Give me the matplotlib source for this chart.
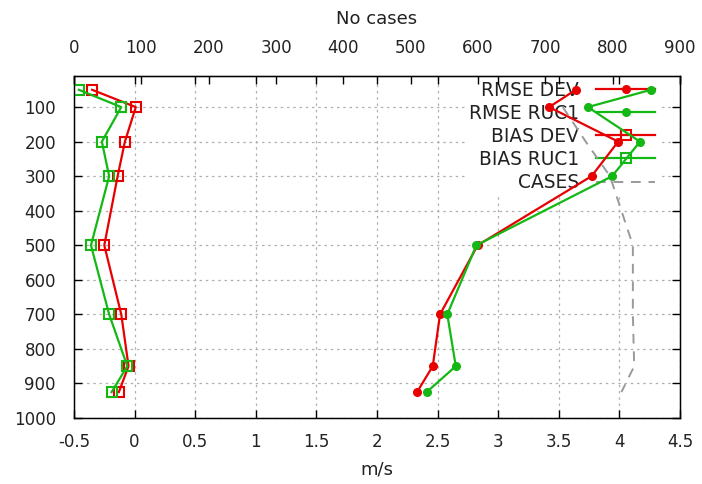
import matplotlib
matplotlib.use('Agg')
import matplotlib.pyplot as plt

# ---- data ----
levels = [50, 100, 200, 300, 500, 700, 850, 925]
rmse_dev = [3.64, 3.42, 3.99, 3.77, 2.83, 2.52, 2.46, 2.33]
rmse_ruc1 = [4.26, 3.74, 4.17, 3.94, 2.82, 2.58, 2.65, 2.41]
bias_dev = [-0.35, 0.01, -0.08, -0.14, -0.25, -0.11, -0.05, -0.13]
bias_ruc1 = [-0.46, -0.11, -0.27, -0.21, -0.36, -0.21, -0.06, -0.19]
case_levels = [100, 200, 300, 400, 500, 700, 850, 925]
cases = [726, 760, 796, 813, 830, 830, 832, 813]

x_ticks = [-0.5, 0, 0.5, 1, 1.5, 2, 2.5, 3, 3.5, 4, 4.5]
x_tick_labels = ['-0.5', '0', '0.5', '1', '1.5', '2', '2.5', '3', '3.5', '4', '4.5']
y_ticks = [100, 200, 300, 400, 500, 600, 700, 800, 900, 1000]
case_ticks = [0, 100, 200, 300, 400, 500, 600, 700, 800, 900]

RED = '#E80000'
GREEN = '#14B814'
GRAY = '#9a9a9a'
TXT = '#222222'

plt.rcParams['font.family'] = ['DejaVu Sans']

fig = plt.figure(figsize=(7.02, 4.84), dpi=100)
W, H = 702, 484
L, R, T, B = 74, 680, 76, 418
ax = fig.add_axes([L / W, 1 - B / H, (R - L) / W, (B - T) / H])

ax.set_xlim(-0.5, 4.5)
ax.set_ylim(1000, 10)
ax.set_xticks(x_ticks)
ax.set_xticklabels(x_tick_labels)
ax.set_yticks(y_ticks)
ax.set_axisbelow(True)
ax.grid(True, color='#b0b0b0', linestyle=(0, (2, 3)), linewidth=0.9)

lw = 1.6
l1, = ax.plot(rmse_dev, levels, color=RED, lw=lw, marker='o', ms=5.5,
              mec=RED, mfc=RED, label='RMSE DEV', zorder=3)
l2, = ax.plot(rmse_ruc1, levels, color=GREEN, lw=lw, marker='o', ms=5.5,
              mec=GREEN, mfc=GREEN, label='RMSE RUC1', zorder=3)
l3, = ax.plot(bias_dev, levels, color=RED, lw=lw, marker='s', ms=6.5,
              mec=RED, mfc='none', mew=1.5, label='BIAS DEV', zorder=3)
l4, = ax.plot(bias_ruc1, levels, color=GREEN, lw=lw, marker='s', ms=6.5,
              mec=GREEN, mfc='none', mew=1.5, label='BIAS RUC1', zorder=3)

ax.tick_params(axis='both', direction='in', length=6, width=1,
               labelsize=12, labelcolor=TXT, color='black')
ax.tick_params(axis='x', pad=11)
ax.tick_params(axis='y', right=True, pad=13)
ax.set_xlabel('m/s', fontsize=13, color=TXT, labelpad=6.5)
for s in ax.spines.values():
    s.set_linewidth(1.0)
    s.set_color('black')

# top axis for number of cases
ax2 = ax.twiny()
ax2.set_xlim(0, 900)
ax2.set_xticks(case_ticks)
l5, = ax2.plot(cases, case_levels, color=GRAY, lw=1.4,
               linestyle=(0, (5, 4)), label='CASES', zorder=3)
ax2.tick_params(axis='x', direction='in', length=6, width=1, top=True,
                bottom=False, labelsize=12, labelcolor=TXT, pad=13.4)
ax2.set_xlabel('No cases', fontsize=13, color=TXT, labelpad=11)

# mirrored bottom ticks on top, drawn above the legend box
sec = ax.secondary_xaxis('top')
sec.set_xticks(x_ticks)
sec.tick_params(direction='in', length=6, width=1, labeltop=False)
sec.set_zorder(3)
ax.tick_params(axis='x', top=False)

fs = 13.4
leg = ax.legend(handles=[l1, l2, l3, l4, l5], loc='upper right',
                bbox_to_anchor=(659 / W, 1 - 77 / H), bbox_transform=fig.transFigure,
                markerfirst=False, frameon=True, fancybox=False, framealpha=1,
                edgecolor='none', facecolor='white', fontsize=fs,
                handlelength=3.2, handletextpad=0.9, labelspacing=0.22,
                borderpad=0.2, borderaxespad=0, numpoints=1)
leg.set_zorder(1.5)
for t in leg.get_texts():
    t.set_color(TXT)

fig.savefig('out.png', dpi=100)
